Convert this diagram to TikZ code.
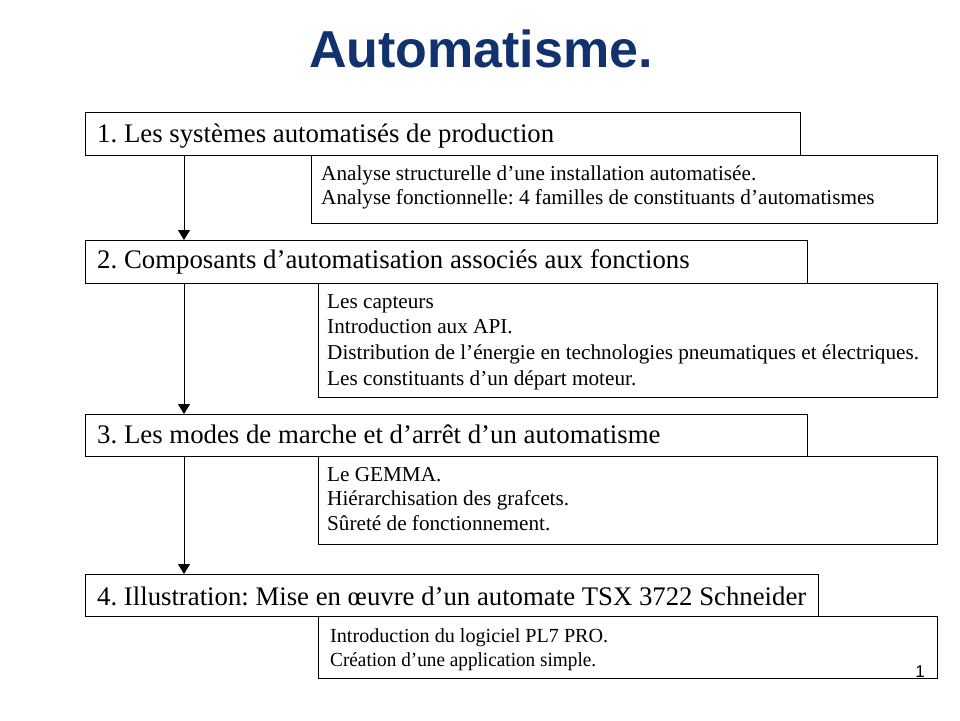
\documentclass[tikz,border=0pt]{standalone}
\usepackage{fontspec}
\setmainfont{Liberation Serif}
\newfontfamily\titlefont{Liberation Sans}
\usetikzlibrary{arrows.meta}
\definecolor{navy}{RGB}{16,50,110}
\frenchspacing
\tikzset{
  mainbox/.style={draw, line width=1pt, anchor=north west, inner sep=0pt},
  detbox/.style={draw, line width=1pt, anchor=north west, inner sep=0pt},
  maintext/.style={anchor=base west, inner sep=0pt, font=\fontsize{26.8}{30}\selectfont},
  dettext/.style={anchor=base west, inner sep=0pt, font=\fontsize{21.2}{24}\selectfont},
  d4text/.style={anchor=base west, inner sep=0pt, font=\fontsize{20}{24}\selectfont},
  arr/.style={line width=1pt, -{Triangle[width=12pt,length=10pt]}},
}
\begin{document}
\begin{tikzpicture}[x=1pt,y=-1pt]
\useasboundingbox (0,0) rectangle (960,720);
\node[anchor=base, inner sep=0pt, text=navy, draw=navy, line width=0.6pt, font=\titlefont\bfseries\fontsize{52}{60}\selectfont, draw opacity=0] (title) at (481,67) {Automatisme.};

% box 1
\node[mainbox, minimum width=715pt, minimum height=43pt] (b1) at (85,112) {};
\node[maintext] (t1) at (97,142.5) {1. Les systèmes automatisés de production};
\node[detbox, minimum width=626pt, minimum height=68pt] (d1) at (311,155) {};
\node[dettext] (d1a) at (321,180.5) {Analyse structurelle d’une installation automatisée.};
\node[dettext] (d1b) at (321,204) {Analyse fonctionnelle: 4 familles de constituants d’automatismes};

% box 2
\node[mainbox, minimum width=722pt, minimum height=43pt] (b2) at (85,240) {};
\node[maintext] (t2) at (97,268.5) {2. Composants d’automatisation associés aux fonctions};
\node[detbox, minimum width=619pt, minimum height=114pt] (d2) at (318,283) {};
\node[dettext] (d2a) at (327,308) {Les capteurs};
\node[dettext] (d2b) at (327,333.8) {Introduction aux API.};
\node[dettext] (d2c) at (327,359.6) {Distribution de l’énergie en technologies pneumatiques et électriques.};
\node[dettext] (d2d) at (327,385.4) {Les constituants d’un départ moteur.};

% box 3
\node[mainbox, minimum width=722pt, minimum height=42pt] (b3) at (85,414) {};
\node[maintext] (t3) at (97,443.5) {3. Les modes de marche et d’arrêt d’un automatisme};
\node[detbox, minimum width=619pt, minimum height=88pt] (d3) at (318,456) {};
\node[dettext] (d3a) at (327,481) {Le GEMMA.};
\node[dettext] (d3b) at (327,505.5) {Hiérarchisation des grafcets.};
\node[dettext] (d3c) at (327,530) {Sûreté de fonctionnement.};

% box 4
\node[mainbox, minimum width=733pt, minimum height=42pt] (b4) at (85,574) {};
\node[maintext] (t4) at (97,605.5) {\resizebox{709pt}{\height}{4. Illustration: Mise en œuvre d’un automate TSX 3722 Schneider}};
\node[detbox, minimum width=619pt, minimum height=62pt] (d4) at (318,616) {};
\node[d4text] (d4a) at (330,642.5) {\resizebox{278pt}{\height}{Introduction du logiciel PL7 PRO.}};
\node[d4text] (d4b) at (330,666) {\resizebox{266pt}{\height}{Création d’une application simple.}};

\node[anchor=base, inner sep=0pt, font=\titlefont\fontsize{17}{19}\selectfont] (pg) at (920,677) {1};

% arrows
\draw[arr] ([xshift=99pt]b1.south west) -- ([xshift=99pt]b2.north west);
\draw[arr] ([xshift=99pt]b2.south west) -- ([xshift=99pt]b3.north west);
\draw[arr] ([xshift=99pt]b3.south west) -- ([xshift=99pt]b4.north west);
\end{tikzpicture}
\end{document}
